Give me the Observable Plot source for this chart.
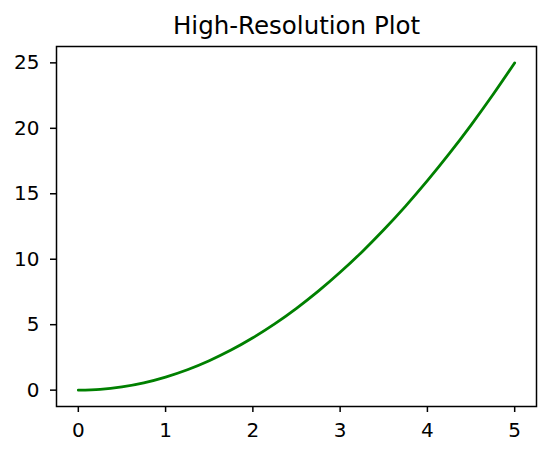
<!DOCTYPE html>
<html>
<head>
<meta charset="utf-8">
<script src="https://cdn.jsdelivr.net/npm/d3@7"></script>
<script src="https://cdn.jsdelivr.net/npm/@observablehq/plot@0.6"></script>
<style>
  html, body { margin: 0; padding: 0; background: #fff; }
  svg { display: block; }
</style>
</head>
<body>
<div id="chart"></div>
<script>
const title = "High-Resolution Plot";
const xValues = [0, 0.25, 0.5, 0.75, 1, 1.25, 1.5, 1.75, 2, 2.25, 2.5, 2.75, 3, 3.25, 3.5, 3.75, 4, 4.25, 4.5, 4.75, 5];
const yValues = [0, 0.06, 0.25, 0.56, 1, 1.56, 2.25, 3.06, 4, 5.06, 6.25, 7.56, 9, 10.56, 12.25, 14.06, 16, 18.06, 20.25, 22.56, 25];
const xTicks = [0, 1, 2, 3, 4, 5];
const yTicks = [0, 5, 10, 15, 20, 25];

const data = xValues.map((x, i) => ({x, y: yValues[i]}));

const chart = Plot.plot({
  width: 551,
  height: 456,
  marginLeft: 56,
  marginRight: 15,
  marginTop: 46,
  marginBottom: 50,
  style: {fontFamily: "DejaVu Sans", fontSize: "20px", color: "#000", background: "#fff"},
  x: {domain: [-0.25, 5.25], ticks: xTicks, tickFormat: d => String(d), label: null},
  y: {domain: [-1.25, 26.25], ticks: yTicks, tickFormat: d => String(d), label: null},
  marks: [
    Plot.axisX({ticks: xTicks, tickSize: 6, tickPadding: 10, tickFormat: d => String(d), label: null, strokeWidth: 1.5, fontSize: 20}),
    Plot.axisY({ticks: yTicks, tickSize: 6, tickPadding: 11, tickFormat: d => String(d), label: null, strokeWidth: 1.5, fontSize: 20}),
    Plot.line(data, {x: "x", y: "y", stroke: "green", strokeWidth: 2.8, curve: "natural"}),
    Plot.frame({stroke: "#000", strokeWidth: 1.5}),
    Plot.text([title], {frameAnchor: "top", dy: -20, fontSize: 24.5, fill: "#000", textAnchor: "middle", lineAnchor: "middle"})
  ]
});
document.getElementById("chart").appendChild(chart);
</script>
</body>
</html>
